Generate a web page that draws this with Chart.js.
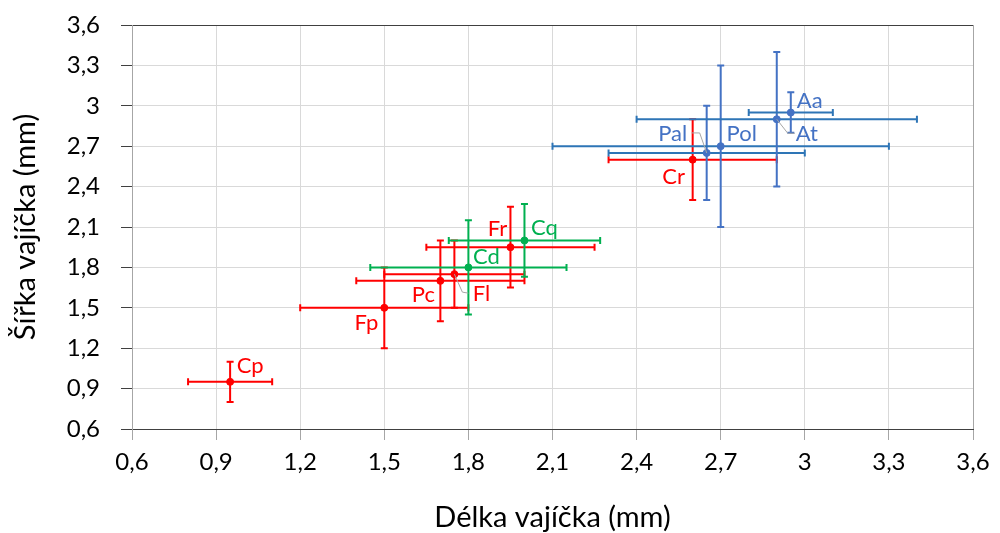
<!DOCTYPE html>
<html>
<head>
<meta charset="utf-8">
<script src="https://cdn.jsdelivr.net/npm/chart.js@4.4.1/dist/chart.umd.min.js"></script>
<style>
  body { margin: 0; background: #fff; }
  canvas { display: block; }
</style>
</head>
<body>
<canvas id="chart" width="1000" height="533"></canvas>
<script>
// axis ticks (same on both axes)
const tickValues = [0.6, 0.9, 1.2, 1.5, 1.8, 2.1, 2.4, 2.7, 3, 3.3, 3.6];
const tickLabels = ['0,6', '0,9', '1,2', '1,5', '1,8', '2,1', '2,4', '2,7', '3', '3,3', '3,6'];

// red series
const redNames = ['Cp', 'Fp', 'Pc', 'Fl', 'Fr', 'Cr'];
const redLength = [0.95, 1.5, 1.7, 1.75, 1.95, 2.6];
const redWidth = [0.95, 1.5, 1.7, 1.75, 1.95, 2.6];
const redLengthErr = [0.15, 0.3, 0.3, 0.25, 0.3, 0.3];
const redWidthErr = [0.15, 0.3, 0.3, 0.25, 0.3, 0.3];

// green series
const greenNames = ['Cd', 'Cq'];
const greenLength = [1.8, 2.0];
const greenWidth = [1.8, 2.0];
const greenLengthErr = [0.35, 0.27];
const greenWidthErr = [0.35, 0.27];

// blue series
const blueNames = ['Pal', 'Pol', 'At', 'Aa'];
const blueLength = [2.65, 2.7, 2.9, 2.95];
const blueWidth = [2.65, 2.7, 2.9, 2.95];
const blueLengthErr = [0.35, 0.6, 0.5, 0.15];
const blueWidthErr = [0.35, 0.6, 0.5, 0.15];

// label placement, pixel offset of label centre from its point
const labelOffset = {
  Cp: [20, -16], Fp: [-18, 15], Pc: [-17, 14], Fl: [27, 20], Fr: [-13, -18], Cr: [-19, 17],
  Cd: [18, -10], Cq: [20, -13],
  Pal: [-34, -19], Pol: [21, -12], At: [30, 15], Aa: [19, -12]
};
// leader lines for labels pushed away from their points
const leaders = {
  Fl: [[8, 18], [14, 19]],
  Pal: [[-7, -20], [-15, -20]],
  At: [[11, 14], [18, 14]]
};

function points(names, xs, ys, xe, ye) {
  return names.map((n, i) => ({ x: xs[i], y: ys[i], xErr: xe[i], yErr: ye[i], name: n }));
}

const datasets = [
  { data: points(redNames, redLength, redWidth, redLengthErr, redWidthErr),
    color: '#FF0000', xBarColor: '#FF0000', yBarColor: '#FF0000' },
  { data: points(greenNames, greenLength, greenWidth, greenLengthErr, greenWidthErr),
    color: '#00B050', xBarColor: '#00B050', yBarColor: '#00B050' },
  { data: points(blueNames, blueLength, blueWidth, blueLengthErr, blueWidthErr),
    color: '#4472C4', xBarColor: '#2E75B6', yBarColor: '#4472C4' }
].map(d => ({
  data: d.data,
  backgroundColor: d.color,
  borderColor: d.color,
  pointRadius: 3.5,
  pointHoverRadius: 3.5,
  labelColor: d.color,
  xBarColor: d.xBarColor,
  yBarColor: d.yBarColor
}));

const cap = 3.5;

const errorBars = {
  id: 'errorBars',
  beforeDatasetsDraw(chart) {
    const { ctx, scales: { x, y } } = chart;
    ctx.save();
    ctx.lineWidth = 2;
    chart.data.datasets.forEach(ds => {
      ds.data.forEach(p => {
        const px = x.getPixelForValue(p.x), py = y.getPixelForValue(p.y);
        const x0 = x.getPixelForValue(p.x - p.xErr), x1 = x.getPixelForValue(p.x + p.xErr);
        const y0 = y.getPixelForValue(p.y - p.yErr), y1 = y.getPixelForValue(p.y + p.yErr);
        ctx.strokeStyle = ds.xBarColor;
        ctx.beginPath();
        ctx.moveTo(x0, py); ctx.lineTo(x1, py);
        ctx.moveTo(x0, py - cap); ctx.lineTo(x0, py + cap);
        ctx.moveTo(x1, py - cap); ctx.lineTo(x1, py + cap);
        ctx.stroke();
        ctx.strokeStyle = ds.yBarColor;
        ctx.beginPath();
        ctx.moveTo(px, y0); ctx.lineTo(px, y1);
        ctx.moveTo(px - cap, y0); ctx.lineTo(px + cap, y0);
        ctx.moveTo(px - cap, y1); ctx.lineTo(px + cap, y1);
        ctx.stroke();
      });
    });
    ctx.restore();
  },
  afterDatasetsDraw(chart) {
    const { ctx, scales: { x, y } } = chart;
    ctx.save();
    ctx.font = '22px Lato';
    ctx.textAlign = 'center';
    ctx.textBaseline = 'middle';
    chart.data.datasets.forEach(ds => {
      ds.data.forEach(p => {
        const px = x.getPixelForValue(p.x), py = y.getPixelForValue(p.y);
        const lead = leaders[p.name];
        if (lead) {
          ctx.strokeStyle = '#A6A6A6';
          ctx.lineWidth = 1;
          ctx.beginPath();
          ctx.moveTo(px, py);
          lead.forEach(([dx, dy]) => ctx.lineTo(px + dx, py + dy));
          ctx.stroke();
        }
        const [ox, oy] = labelOffset[p.name];
        ctx.fillStyle = ds.labelColor;
        ctx.fillText(p.name, px + ox, py + oy);
      });
    });
    ctx.restore();
  }
};

const setTicks = scale => { scale.ticks = tickValues.map(v => ({ value: v })); };
const tickFont = { family: 'Lato', size: 24 };
const titleFont = { family: 'Lato', size: 29, lineHeight: 1 };

new Chart(document.getElementById('chart'), {
  type: 'scatter',
  data: { datasets },
  options: {
    responsive: false,
    animation: false,
    layout: { padding: { top: 25, right: 27, left: 0, bottom: 0 } },
    plugins: { legend: { display: false }, tooltip: { enabled: false } },
    scales: {
      x: {
        type: 'linear',
        position: 'bottom',
        min: 0.6,
        max: 3.6,
        afterBuildTicks: setTicks,
        afterFit: s => { s.height = 104; s.paddingLeft = 0; s.paddingRight = 0; },
        ticks: { callback: (v, i) => tickLabels[i], font: tickFont, color: '#000', padding: 8, maxRotation: 0 },
        grid: {
          color: c => (c.tick && c.tick.value === 3.6 ? '#A6A6A6' : '#D9D9D9'),
          tickColor: '#A6A6A6',
          tickLength: 11,
          lineWidth: 1
        },
        border: { color: '#404040', width: 1 },
        title: { display: true, text: 'Délka vajíčka (mm)', font: titleFont, color: '#000', padding: { top: 0, bottom: 1 } }
      },
      y: {
        type: 'linear',
        min: 0.6,
        max: 3.6,
        afterBuildTicks: setTicks,
        afterFit: s => { s.width = 132; s.paddingTop = 0; s.paddingBottom = 0; },
        ticks: { callback: (v, i) => tickLabels[i], font: tickFont, color: '#000', padding: 21 },
        grid: {
          color: c => (c.tick && c.tick.value === 3.6 ? '#404040' : '#D9D9D9'),
          tickColor: '#404040',
          tickLength: 11,
          lineWidth: 1
        },
        border: { color: '#A6A6A6', width: 1 },
        title: { display: true, text: 'Šířka vajíčka (mm)', font: titleFont, color: '#000', padding: { top: 11, bottom: 0 } }
      }
    }
  },
  plugins: [errorBars]
});
</script>
</body>
</html>
